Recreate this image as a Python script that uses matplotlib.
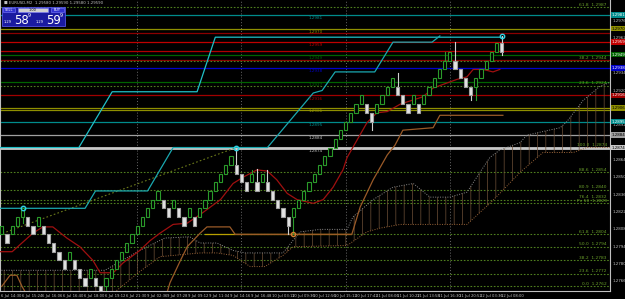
import numpy as np
import matplotlib
matplotlib.use('Agg')
import matplotlib.pyplot as plt
from matplotlib.transforms import blended_transform_factory as btf

# ---------------- data ----------------
BRICK = 0.0007
brick_low = [1.2804,1.2797,1.2804,1.2811,1.2818,1.2811,1.2804,1.2811,1.2804,1.2797,
             1.2790,1.2783,1.2776,1.2783,1.2776,1.2769,1.2762,1.2769,1.2762,1.2755,
             1.2762,1.2769,1.2776,1.2783,1.2790,1.2797,1.2804,1.2811,1.2818,1.2825,
             1.2832,1.2825,1.2818,1.2825,1.2818,1.2811,1.2818,1.2811,1.2818,1.2825,
             1.2832,1.2839,1.2846,1.2853,1.2860,1.2853,1.2846,1.2839,1.2846,1.2839,
             1.2846,1.2839,1.2832,1.2825,1.2818,1.2811,1.2818,1.2825,1.2832,1.2839,
             1.2846,1.2853,1.2860,1.2867,1.2874,1.2881,1.2888,1.2895,1.2902,1.2909,
             1.2902,1.2895,1.2902,1.2909,1.2916,1.2923,1.2916,1.2909,1.2902,1.2909,
             1.2902,1.2909,1.2916,1.2923,1.2930,1.2937,1.2944,1.2937,1.2930,1.2923,
             1.2916,1.2923,1.2930,1.2937,1.2944,1.2951,1.2951]
brick_dir = ("UDUUUDDUDD" "DDDUDDDUDD" "UUUUUUUUUU" "UDDUDDUDUU" "UUUUUDDDUD"
             "UDDDDDUUUU" "UUUUUUUUUU" "DDUUUUDDDU" "DUUUUUUDDD" "DUUUUUD")
wick_low = {4: 1.2813, 20: 1.2757, 55: 1.2804, 56: 1.2804, 71: 1.2888,
            90: 1.2912, 91: 1.2912, 96: 1.2949}
wick_high = {4: 1.2825, 45: 1.2874, 48: 1.2856, 49: 1.2857, 51: 1.2856,
             76: 1.2934, 85: 1.2951, 87: 1.2959, 96: 1.2964}
cyan_marks = [(4, 1.2825), (45, 1.2874), (96, 1.2964)]
orange_marks = [(56, 1.2804)]

kijun_x = [-1, 2.0, 6.0, 7.9, 9.8, 12.5, 15.0, 17.5, 18.9, 21.4, 23.3, 26.5, 28.5, 30.4, 32.9,
           35.6, 38.1, 42.0, 44.4, 46.3, 49.0, 51.0, 52.8, 54.8, 56.7, 59.8, 61.7, 63.6,
           65.5, 66.3, 68.2, 70.1, 72.0, 74.0, 76.5, 80.9, 82.8, 87.4, 89.3, 90.5, 92.4,
           94.3, 95.6]
kijun_y = [1.2790, 1.2790, 1.2805, 1.2810, 1.2810, 1.2801, 1.2794, 1.2783, 1.2773, 1.2773,
           1.2781, 1.2791, 1.2799, 1.2805, 1.2812, 1.2813, 1.2820, 1.2832, 1.2845, 1.2850,
           1.2856, 1.2855, 1.2848, 1.2837, 1.2832, 1.2829, 1.2832, 1.2842, 1.2856, 1.2866,
           1.2880, 1.2894, 1.2902, 1.2903, 1.2909, 1.2915, 1.2922, 1.2929, 1.2931, 1.2937,
           1.2937, 1.2935, 1.2937]

don_lo_x = [-1, 16, 18, 28, 32.9, 51, 59.8, 61.5, 64, 71.6, 75.1, 82.6, 84.1]
don_lo_y = [1.2825, 1.2825, 1.2839, 1.2839, 1.2874, 1.2874, 1.2918, 1.2920, 1.2935,
            1.2935, 1.2959, 1.2959, 1.2964]
don_hi_x = [-1, 14.8, 21.2, 37.5, 41.0, 96.2]
don_hi_y = [1.2874, 1.2874, 1.2919, 1.2919, 1.2963, 1.2963]

trend_x = [-1, 45]
trend_y = [1.2803, 1.2874]

lag_x = [0, 1.6, 2.9, 3.9, 5.4, 31.3, 32.3, 34.2, 35.6, 38.1, 39.4, 43.8, 44.8, 67.2,
         68.8, 71.3, 74.0, 75.5, 77.0, 82.8, 84.1, 96.2]
lag_y = [1.2762, 1.2771, 1.2771, 1.2762, 1.2751, 1.2751, 1.2765, 1.2782, 1.2794, 1.2805,
         1.2810, 1.2810, 1.2804, 1.2804, 1.2826, 1.2848, 1.2868, 1.2876, 1.2888, 1.2890,
         1.2900, 1.2900]

support_x = [39.0, 67.0]
support_y = [1.2804, 1.2804]

span_a_x = [-1, 19.8, 26.5, 31.3, 36.1, 38.1, 41.3, 44.4, 46.7, 54.0, 55.9, 57.3, 61.1,
            66.3, 67.4, 71.3, 75.1, 79.0, 82.2, 86.0, 89.3, 91.8, 93.7, 95.6, 99.5, 100.8,
            107.2, 108.5, 111.6, 114.7, 117.5]
span_a_y = [1.2775, 1.2775, 1.2791, 1.2801, 1.2802, 1.2797, 1.2797, 1.2791, 1.2789, 1.2789,
            1.2799, 1.2806, 1.2808, 1.2808, 1.2818, 1.2832, 1.2842, 1.2845, 1.2834, 1.2834,
            1.2838, 1.2854, 1.2866, 1.2872, 1.2878, 1.2884, 1.2890, 1.2895, 1.2912, 1.2923,
            1.2928]
span_b_x = [-1, 21.0, 26.5, 30.4, 38.1, 41.3, 44.4, 47.7, 50.5, 54.0, 55.9, 66.3, 70.1,
            72.6, 76.5, 89.3, 93.7, 95.6, 99.5, 103.9, 109.7, 112.3, 117.5]
span_b_y = [1.2755, 1.2755, 1.2774, 1.2786, 1.2789, 1.2789, 1.2787, 1.2778, 1.2778, 1.2787,
            1.2794, 1.2795, 1.2806, 1.2809, 1.2812, 1.2812, 1.2829, 1.2837, 1.2854, 1.2870,
            1.2870, 1.2874, 1.2874]

# horizontal levels: price, colour, style, width
level_price = [1.2987, 1.2981, 1.2970, 1.2966, 1.2959, 1.2952, 1.2949, 1.2945, 1.2944,
               1.2938, 1.2927, 1.2924, 1.2916, 1.2906, 1.2904, 1.2895, 1.2884, 1.2874,
               1.2854, 1.2840, 1.2832, 1.2829, 1.2804, 1.2794, 1.2783, 1.2772, 1.2762]
level_color = ['#4f7f1f', '#008b8b', '#8f8f00', '#8b0000', '#c00000', '#b00000', '#006400',
               '#8b0000', '#4f7f1f', '#0000c8', '#006400', '#4f7f1f', '#a00000', '#8f8f00',
               '#8f8f00', '#008b8b', '#a0a0a0', '#c8c8c8', '#4f7f1f', '#4f7f1f', '#4f7f1f',
               '#4f7f1f', '#4f7f1f', '#4f7f1f', '#4f7f1f', '#4f7f1f', '#4f7f1f']
level_style = [':', '-', '-', '-', '-', '-', '-', '-', ':', '-', '-', ':', '-', '-', '-', '-',
               '-', '-', ':', ':', ':', ':', ':', ':', ':', ':', ':']
level_width = [0.8, 0.9, 0.9, 0.9, 0.9, 0.9, 0.9, 0.9, 0.8, 0.9, 0.9, 0.8, 0.9, 0.9, 0.9, 0.9,
               0.9, 2.0, 0.8, 0.8, 0.8, 0.8, 0.8, 0.8, 0.8, 0.8, 0.8]
fib_names = {0: '61.8', 8: '38.2', 11: '23.6', 17: '100.0', 18: '88.6', 19: '80.9',
             20: '76.4', 21: 'Pv 50', 22: '61.8', 23: '50.0', 24: '38.2', 25: '23.6', 26: '0.0'}

time_labels = ['6 Jul 14:30', '6 Jul 15:24', '6 Jul 16:06', '6 Jul 16:40', '6 Jul 18:00',
               '6 Jul 19:12', '6 Jul 21:30', '9 Jul 02:36', '9 Jul 07:28', '9 Jul 09:12',
               '9 Jul 11:04', '9 Jul 14:16', '9 Jul 16:48', '10 Jul 03:12', '10 Jul 09:36',
               '10 Jul 12:56', '10 Jul 15:12', '10 Jul 17:42', '11 Jul 08:06', '11 Jul 10:22',
               '11 Jul 13:58', '11 Jul 16:30', '11 Jul 20:52', '12 Jul 03:36', '12 Jul 08:00']
axis_prices = [1.2976, 1.2962, 1.2934, 1.2920, 1.2892, 1.2864, 1.2850, 1.2836, 1.2822,
               1.2808, 1.2794, 1.2780, 1.2766]

# ---------------- figure ----------------
W, H = 625, 299
fig = plt.figure(figsize=(W / 100, H / 100), dpi=100, facecolor='black')
ax = fig.add_axes([0, 1 - 291 / H, 610 / W, 291 / H])
ax.set_facecolor('black')
ax.set_xlim(-0.33, 116.76)
ax.set_ylim(1.27583, 1.2993)
for s in ax.spines.values():
    s.set_color('#c0c0c0')
    s.set_linewidth(0.8)
ax.spines['top'].set_visible(False)
ax.set_xticks([])
ax.set_yticks([])

plt.rcParams['hatch.linewidth'] = 0.5

# day separators
for d in [26, 46, 66, 86]:
    ax.axvline(d, color='#6a6a6a', ls=(0, (1, 2)), lw=0.7, zorder=1)

# horizontal levels
for p, c, st, w in zip(level_price, level_color, level_style, level_width):
    ax.axhline(p, color=c, ls=st if st == '-' else (0, (1.5, 1.5)), lw=w, zorder=2)

# cloud
xs = np.union1d(span_a_x, span_b_x)
a = np.interp(xs, span_a_x, span_a_y)
b = np.interp(xs, span_b_x, span_b_y)
ax.fill_between(xs, a, b, where=a >= b, interpolate=True, facecolor='none',
                edgecolor='#6e5038', hatch='||', linewidth=0, zorder=2)
ax.fill_between(xs, a, b, where=a < b, interpolate=True, facecolor='none',
                edgecolor='#555555', hatch='||', linewidth=0, zorder=2)
ax.plot(span_a_x, span_a_y, color='#8a8a8a', ls=(0, (1, 1.5)), lw=0.7, zorder=3)
ax.plot(span_b_x, span_b_y, color='#9a6438', ls=(0, (1, 1.5)), lw=0.7, zorder=3)

# indicator lines
ax.plot(trend_x, trend_y, color='#6b7a1a', ls=(0, (1.5, 2)), lw=0.8, zorder=3)
ax.plot(support_x, support_y, color='#b8a000', lw=0.9, zorder=3)
ax.plot(lag_x, lag_y, color='#9a5a28', lw=0.9, zorder=4)
ax.plot(kijun_x, kijun_y, color='#a01010', lw=0.9, zorder=4)
ax.plot(don_hi_x, don_hi_y, color='#20c0c8', lw=0.9, zorder=4)
ax.plot(don_lo_x, don_lo_y, color='#1aa8b0', lw=0.9, zorder=4)

# renko bricks
bw = 0.62
for i, (lo, d) in enumerate(zip(brick_low, brick_dir)):
    hi = lo + BRICK
    wl = wick_low.get(i, lo)
    wh = wick_high.get(i, hi)
    if d == 'U':
        ec, fc, wc = '#2a9a2a', 'black', '#2a9a2a'
    else:
        ec, fc, wc = '#a0a0a0', '#e4e4e4', '#d0d0d0'
    if wh > hi:
        ax.plot([i, i], [hi, wh], color=wc, lw=0.8, zorder=5)
    if wl < lo:
        ax.plot([i, i], [wl, lo], color=wc, lw=0.8, zorder=5)
    ax.add_patch(plt.Rectangle((i - bw / 2, lo), bw, BRICK, facecolor=fc, edgecolor=ec,
                               lw=0.8, zorder=6))

for x, y in cyan_marks:
    ax.plot(x, y, 'o', ms=3.2, mfc='none', mec='#30d0e0', mew=1.0, zorder=7)
for x, y in orange_marks:
    ax.plot(x, y, 'o', ms=3.0, mfc='none', mec='#d08030', mew=1.0, zorder=7)

# level labels in chart
tr = btf(ax.transAxes, ax.transData)
for i, p in enumerate(level_price):
    if i in fib_names:
        ax.text(0.995, p + 0.00005, f'{fib_names[i]}  {p:.4f}', transform=tr, ha='right',
                va='bottom', fontsize=3.2, color='#6aa02a', zorder=8)
for i in [1, 2, 4, 6, 9, 10, 12, 13, 15, 16, 17]:
    p = level_price[i]
    ax.text(0.518, p - 0.00010, f'{p:.4f}', transform=tr, ha='center', va='top',
            fontsize=3.0, color=level_color[i] if i not in (16, 17) else '#c0c0c0', zorder=8)

# right axis price labels
for p in axis_prices:
    ax.text(1.004, p, f'{p:.4f}', transform=tr, ha='left', va='center', fontsize=2.9,
            color='#c0c0c0', clip_on=False)
for i in [1, 2, 4, 6, 9, 12, 13, 15, 16, 17]:
    p = level_price[i]
    c = level_color[i]
    ax.text(1.003, p, f'{p:.4f}', transform=tr, ha='left', va='center', fontsize=2.9,
            color='black' if i in (2, 13, 16, 17) else 'white', clip_on=False,
            bbox=dict(boxstyle='square,pad=0.2', fc=c, ec='none'))

# bottom time labels
for k, t in enumerate(time_labels):
    ax.text(4 * k - 0.2, 1.27583 - 0.00025, t, ha='left', va='top', fontsize=2.7,
            color='#c0c0c0', clip_on=False)

# title and trade panel
fig.text(4 / W, 1 - 1 / H, '\u25a0 EURUSD,M2  1.29580 1.29590 1.29580 1.29590', ha='left',
         va='top', fontsize=2.8, color='#c0c0c0')
fig.patches.append(plt.Rectangle((2 / W, 1 - 26 / H), 63 / W, 19 / H,
                                 transform=fig.transFigure, fc='#1a1aa0', ec='#6060ff', lw=0.5))
for (x0, y0, w, h, c, t, tc) in [(3, 7.5, 12, 4.5, '#3030d0', 'SELL', 'white'),
                                 (18, 7.5, 30, 4.5, '#d0d0d0', '1.00', 'black'),
                                 (51, 7.5, 13, 4.5, '#3030d0', 'BUY', 'white')]:
    fig.patches.append(plt.Rectangle((x0 / W, 1 - (y0 + h) / H), w / W, h / H,
                                     transform=fig.transFigure, fc=c, ec='#8080ff', lw=0.4))
    fig.text((x0 + w / 2) / W, 1 - (y0 + h / 2) / H, t, ha='center', va='center',
             fontsize=2.5, color=tc)
for x0, small, big, sup in [(3, '1.29', '58', '9'), (35, '1.29', '59', '9')]:
    fig.text((x0 + 1) / W, 1 - 22 / H, small, ha='left', va='center', fontsize=2.6, color='white')
    fig.text((x0 + 11) / W, 1 - 20 / H, big, ha='left', va='center', fontsize=8.5, color='white')
    fig.text((x0 + 25) / W, 1 - 15.5 / H, sup, ha='left', va='center', fontsize=3.5, color='white')

fig.savefig('out.png', dpi=100, facecolor='black')
